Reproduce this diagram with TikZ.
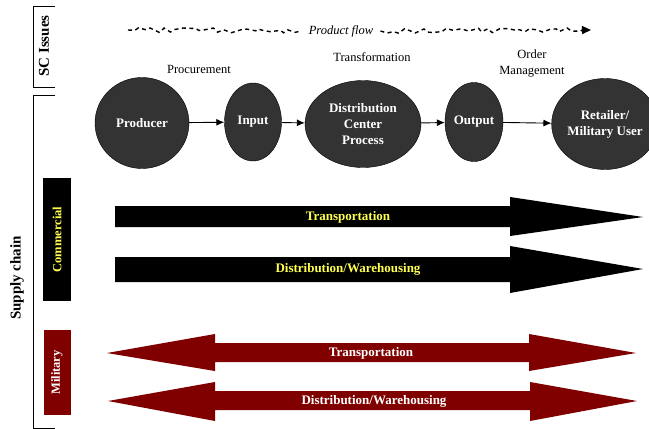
\documentclass[tikz,border=0pt]{standalone}
\usepackage{fontspec}
\setmainfont{Liberation Serif}
\usetikzlibrary{shapes.geometric,arrows.meta,decorations.pathmorphing}
\definecolor{stagegray}{RGB}{51,51,51}
\definecolor{milred}{RGB}{128,0,0}
\definecolor{comyellow}{RGB}{255,255,80}

\tikzset{
  stage/.style={ellipse, draw=black, fill=stagegray, text=white, inner sep=0pt,
    align=center, font=\fontsize{13}{16}\selectfont\bfseries},
  phase/.style={align=center, font=\fontsize{12.5}{16}\selectfont},
  flowarrow/.style={-{Latex[length=8pt,width=7pt]}, line width=0.9pt},
  wavy/.style={line width=1.4pt, dash pattern=on 4pt off 3.5pt, decorate},
  bandtext/.style={font=\fontsize{13}{15}\selectfont\bfseries},
  sidebox/.style={rotate=90, inner sep=0pt, font=\fontsize{12.5}{15}\selectfont\bfseries},
  sidetitle/.style={rotate=90, font=\fontsize{15}{18}\selectfont\bfseries}
}

\begin{document}
\begin{tikzpicture}[x=1pt,y=-1pt]
  \useasboundingbox (0,0) rectangle (649,429);

  % brackets on the left
  \draw[line width=1pt] (55,6) -- (33,6) -- (33,87) -- (55,87);
  \node[sidetitle] (scissues) at (44,46) {SC Issues};
  \draw[line width=1pt] (55,95) -- (33,95) -- (33,428) -- (55,428);
  \node[sidetitle] (supply) at (17,278) {Supply chain};

  % commercial / military boxes
  \node[sidebox, fill=black, text=comyellow, minimum width=123pt, minimum height=28pt]
    (commercial) at (57,239.5) {Commercial};
  \node[sidebox, fill=milred, text=white, minimum width=85pt, minimum height=27pt]
    (military) at (57,372.5) {Military};

  % product flow
  \coordinate (pfstart) at (128,30);
  \coordinate (pfend) at (591,30);
  \node[font=\fontsize{12.5}{15}\selectfont\itshape, inner sep=7pt] (pflabel) at (341,31) {Product flow};
  \draw[wavy, decoration={random steps, segment length=6pt, amplitude=2.5pt}]
    (pfstart) -- (pflabel.west);
  \draw[wavy, decoration={random steps, segment length=6pt, amplitude=2.5pt, post length=9pt},
    -{Triangle[length=9pt,width=8pt]}] (pflabel.east) -- (pfend);

  % phases
  \node[phase] (procure) at (199,69) {Procurement};
  \node[phase] (transform) at (372,57) {Transformation};
  \node[phase] (ordermgmt) at (532,64) {Order\\Management};

  % stages
  \node[stage, minimum width=94pt, minimum height=91pt] (producer) at (142,123) {Producer};
  \node[stage, minimum width=57pt, minimum height=78pt] (input) at (253,122) {Input};
  \node[stage, minimum width=116pt, minimum height=87pt] (dcp) at (363,124) {Distribution\\Center\\Process};
  \node[stage, minimum width=58pt, minimum height=79pt] (output) at (474,122) {Output};
  \node[stage, minimum width=84pt, minimum height=91pt] (retailer) at (605,124) {Retailer/\\Military User};

  \draw[flowarrow] (producer) -- (input);
  \draw[flowarrow] (input) -- (dcp);
  \draw[flowarrow] (dcp) -- (output);
  \draw[flowarrow] (output) -- (retailer);

  % commercial arrows
  \fill[black] (115,206) -- (510,206) -- (510,197) -- (643,217) -- (510,236) -- (510,227) -- (115,227) -- cycle;
  \node[bandtext, text=comyellow] (comtrans) at (348,217) {Transportation};
  \fill[black] (115,257) -- (510,257) -- (510,246) -- (643,269) -- (510,293) -- (510,282) -- (115,282) -- cycle;
  \node[bandtext, text=comyellow] (comdist) at (348,269) {Distribution/Warehousing};

  % military arrows
  \fill[milred] (107,353) -- (215,334) -- (215,343) -- (529,343) -- (529,334) -- (636,353)
    -- (529,371) -- (529,362) -- (215,362) -- (215,371) -- cycle;
  \node[bandtext, text=white] (miltrans) at (371,353) {Transportation};
  \fill[milred] (108,401) -- (215,382) -- (215,391) -- (530,391) -- (530,382) -- (637,401)
    -- (530,421) -- (530,410) -- (215,410) -- (215,421) -- cycle;
  \node[bandtext, text=white] (mildist) at (374,401) {Distribution/Warehousing};
\end{tikzpicture}
\end{document}
